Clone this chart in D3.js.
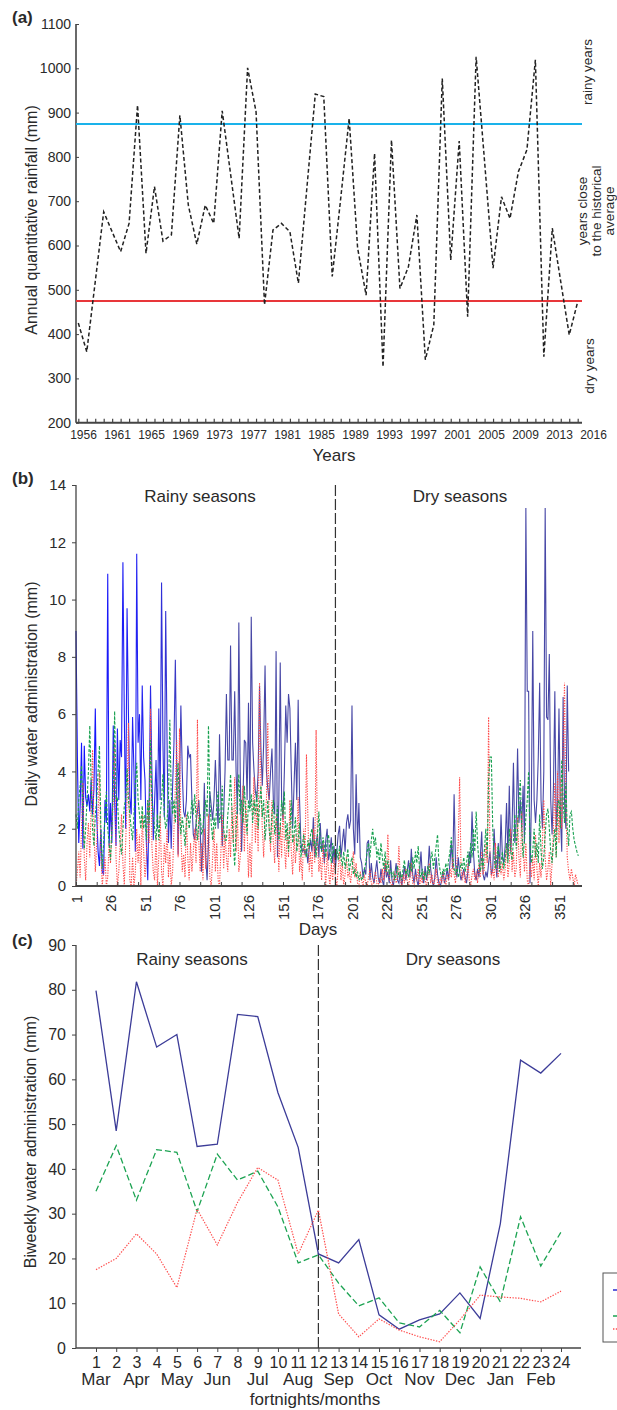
<!DOCTYPE html>
<html><head><meta charset="utf-8">
<script src="https://cdn.jsdelivr.net/npm/d3@7"></script>
<style>
body{margin:0;background:#fff}
svg{display:block}
text{font-family:"Liberation Sans",Arial,sans-serif;fill:#2a2a2a}
</style>
</head><body><svg id="c" width="617" height="1410"></svg>
<script>
// ---------- Panel (a) data ----------
const years = d3.range(1956, 2016);
const rainfall = [425,360,518,676,631,586,650,917,582,733,
  610,624,894,691,603,691,650,904,760,616,
  1001,902,466,635,650,631,515,729,942,936,
  530,706,887,594,488,808,326,838,503,552,
  669,342,421,977,567,836,439,1026,789,549,
  710,661,767,816,1019,349,639,518,398,473];
const yearTickLabels = ["1956","1961","1965","1969","1973","1977","1981","1985","1989","1993","1997","2001","2005","2009","2013","2016"];
const rainfallTicks = [200,300,400,500,600,700,800,900,1000,1100];
const rainyThreshold = 874;
const dryThreshold = 475;

// ---------- Panel (b) data ----------
const days = d3.range(1, 366);
const blueDaily = [
 8.9,4.5,1.5,2.8,5.0,1.3,4.9,3.1,2.8,3.2,
 2.6,3.7,2.5,3.4,6.2,2.5,1.2,0.7,2.0,0.5,
 0.4,3.0,2.2,10.9,1.4,2.9,1.5,5.6,3.0,1.4,
 5.5,3.0,5.1,4.5,11.3,6.0,2.0,9.7,6.0,3.1,
 2.5,5.9,4.0,1.2,11.6,5.0,6.0,3.0,7.0,4.5,
 3.7,1.5,0.2,3.0,7.0,4.0,1.6,3.0,4.4,2.0,
 6.2,3.0,10.6,5.0,2.4,9.6,5.0,1.5,3.0,1.3,
 3.5,5.0,7.9,4.0,1.1,3.5,6.3,4.0,2.6,2.4,
 3.0,4.9,4.5,4.6,3.0,1.8,1.6,2.2,2.6,3.0,
 2.0,0.5,1.5,3.6,1.0,0.2,1.5,3.3,2.8,2.3,
 3.0,4.4,3.0,2.0,5.3,3.0,1.4,2.5,4.0,6.7,
 4.4,4.4,8.4,4.4,4.4,6.8,4.0,2.5,9.2,4.0,
 1.2,3.0,5.1,5.0,3.0,6.4,2.8,9.4,5.0,4.0,
 3.3,3.0,4.0,7.0,4.8,3.5,5.0,7.7,4.0,3.4,
 3.0,4.0,4.8,3.0,2.5,8.2,1.0,3.0,7.8,3.0,
 2.3,4.0,6.3,5.0,6.7,6.2,4.0,2.0,3.5,5.0,
 3.0,6.5,3.0,1.5,1.2,1.3,1.1,1.3,0.8,1.3,
 1.6,1.2,2.4,1.0,1.5,1.8,1.0,2.2,1.2,1.5,
 0.8,1.6,2.0,0.9,1.2,1.7,0.8,1.4,0.6,1.2,
 1.8,2.1,1.0,1.5,2.0,1.2,2.2,2.5,2.0,2.3,
 6.3,2.0,1.1,3.9,1.5,2.9,1.0,0.8,0.3,0.6,
 0.4,1.5,1.6,0.2,0.8,0.3,0.1,0.5,0.9,0.3,
 0.1,0.6,0.2,0.0,0.8,0.3,0.5,0.1,0.9,0.2,
 0.0,0.4,0.8,0.2,0.1,0.5,0.0,0.3,0.7,0.2,
 0.5,0.9,0.3,1.3,0.4,0.1,0.6,0.2,0.0,0.5,
 1.2,0.3,0.1,0.7,0.2,0.5,1.4,0.6,0.2,0.0,
 0.3,1.0,0.4,0.1,0.0,0.2,0.5,0.1,0.3,0.6,
 0.2,0.8,1.5,0.6,3.2,0.8,0.3,1.0,0.5,0.2,
 0.4,0.6,0.3,0.1,0.5,1.2,0.8,2.6,1.2,0.4,
 0.2,0.6,0.3,1.0,1.9,0.4,0.2,0.5,0.3,0.8,
 1.2,0.4,0.6,2.0,0.9,0.3,1.5,0.6,2.5,1.0,
 0.8,1.4,2.9,1.0,3.5,1.2,2.0,4.3,1.5,2.2,
 4.8,2.2,3.0,2.0,3.5,1.5,13.2,6.8,6.8,0.1,
 3.0,8.9,3.0,2.2,3.0,4.5,7.1,3.0,2.0,4.0,
 13.2,5.9,5.8,8.1,3.0,1.8,3.5,6.8,1.9,3.0,
 6.2,2.5,1.2,6.6,3.0,2.0,7.0,4.0];
const greenDaily = [
 2.5,2.0,3.0,3.5,4.2,2.5,1.3,2.0,3.0,4.0,
 5.6,3.5,2.0,1.4,2.5,3.0,4.0,4.9,2.0,0.6,
 1.5,2.5,3.3,2.0,1.5,0.9,2.0,3.5,6.1,3.0,
 3.1,2.0,1.5,1.1,2.0,2.8,3.0,4.1,3.0,2.5,
 2.0,1.6,2.5,3.5,4.3,3.0,2.5,2.0,2.8,2.0,
 2.5,1.6,3.0,2.2,5.1,3.0,2.5,2.0,1.6,2.5,
 1.6,2.5,3.0,3.9,2.5,2.0,2.3,3.0,5.8,3.2,
 2.5,3.0,2.2,3.5,4.3,2.5,1.8,2.4,2.0,1.4,
 2.2,2.6,2.0,2.4,3.0,2.5,3.2,2.4,1.6,2.2,
 2.5,1.8,2.0,2.6,3.0,2.4,5.6,2.9,2.2,1.6,
 2.4,2.0,2.8,3.3,2.2,2.5,3.5,2.0,1.6,1.6,
 2.5,3.0,3.9,2.6,1.5,0.7,2.0,3.0,3.9,2.5,
 3.0,2.2,3.5,2.5,1.8,3.0,2.6,3.2,2.2,3.0,
 2.5,3.3,2.0,2.8,3.5,2.4,3.0,1.6,2.2,3.0,
 2.0,1.5,2.5,3.0,1.8,2.2,2.8,1.6,2.0,3.0,
 2.5,3.3,1.6,2.2,1.2,2.0,3.0,1.5,1.8,2.4,
 1.2,1.6,2.2,1.0,1.4,1.8,1.2,1.0,1.6,1.3,
 1.8,2.0,1.4,1.6,1.0,1.8,2.6,1.4,1.2,1.7,
 1.4,1.0,1.6,1.8,1.2,0.8,1.5,1.1,1.0,1.3,
 0.9,1.4,1.0,0.7,1.2,0.6,0.9,1.3,0.5,0.8,
 1.0,0.4,0.6,0.3,0.5,0.2,0.4,0.2,0.3,0.6,
 0.8,1.2,1.5,1.0,1.6,2.0,1.4,1.7,1.0,1.3,
 0.8,1.5,1.0,0.6,1.2,0.5,0.9,0.4,0.6,0.3,
 0.5,0.2,0.4,0.7,0.3,0.5,0.2,0.6,0.9,0.4,
 0.6,0.3,0.8,0.5,1.0,0.6,1.2,0.8,1.4,0.5,
 0.3,0.6,0.2,0.5,0.3,0.7,0.4,0.9,1.2,0.6,
 1.0,1.4,1.8,0.8,0.5,0.3,0.6,0.4,0.8,0.5,
 0.9,1.2,1.7,1.0,0.6,0.4,0.7,0.3,0.5,0.8,
 0.6,1.0,0.5,0.8,1.2,0.7,1.5,1.0,2.0,1.2,
 2.6,1.5,0.8,0.5,1.0,0.6,1.3,2.0,1.0,3.7,
 4.5,4.5,2.0,1.0,0.6,1.0,1.4,0.5,0.8,1.2,
 0.6,1.0,1.5,0.8,2.0,1.2,0.9,1.6,2.5,1.3,
 2.0,3.0,3.7,2.0,1.0,1.6,2.4,3.0,4.0,1.5,
 0.8,1.2,2.0,1.0,1.5,0.8,2.5,1.2,0.6,1.0,
 1.8,2.5,2.7,2.0,1.2,0.8,1.5,2.0,1.0,2.8,
 3.0,2.0,4.4,3.0,2.2,3.6,2.0,1.4,2.5,2.6,
 2.0,1.6,1.4,1.2,1.05];
const redDaily = [
 0.0,0.5,1.2,0.3,2.0,3.6,1.0,0.2,1.5,2.2,
 1.0,2.8,4.75,2.0,0.5,1.5,2.5,4.0,1.2,0.0,
 0.5,1.0,0.0,0.3,1.5,0.8,2.0,3.0,5.0,1.0,
 0.0,0.5,1.5,2.5,0.8,0.0,1.5,3.0,5.7,0.2,
 0.0,1.0,0.0,0.5,2.0,0.8,1.8,0.0,2.5,1.2,
 0.3,1.0,3.0,1.5,6.2,1.4,0.5,0.2,1.8,0.0,
 1.0,2.5,0.5,0.0,1.5,0.8,2.0,0.3,1.2,0.0,
 0.5,2.0,3.5,5.1,1.0,5.5,1.8,0.5,1.1,0.3,
 2.5,1.0,0.2,1.5,0.5,1.2,2.0,0.8,5.8,1.5,
 0.5,1.5,0.2,2.0,0.6,1.2,2.5,0.3,0.0,1.0,
 2.0,0.5,1.5,0.2,0.0,1.2,2.5,0.6,1.8,1.0,
 0.5,2.0,1.0,2.8,1.5,3.8,1.2,2.5,0.5,1.0,
 2.5,3.5,1.2,3.0,2.0,0.3,1.5,0.3,2.5,3.8,
 1.5,2.8,1.2,7.1,3.5,2.0,1.0,2.5,3.0,5.7,
 2.0,1.2,3.0,1.5,0.8,2.5,1.8,0.5,2.2,1.0,
 2.8,1.5,0.6,2.0,1.0,3.0,1.2,0.4,1.8,0.8,
 1.5,3.1,0.5,1.0,0.2,2.0,1.0,4.6,2.5,0.5,
 1.2,0.3,2.0,0.8,5.45,1.5,0.5,1.0,0.2,1.5,
 0.8,0.0,1.2,0.5,0.0,0.8,0.2,1.0,0.3,0.0,
 0.6,1.2,0.2,0.8,0.0,0.4,1.0,0.3,0.5,0.1,
 0.6,1.2,0.3,0.8,0.1,0.0,0.5,0.2,0.0,0.4,
 0.1,0.0,0.3,0.6,0.1,0.0,0.2,0.5,0.1,0.0,
 0.3,0.1,0.6,0.2,0.9,0.4,1.8,0.3,0.1,0.0,
 0.2,0.5,0.1,0.3,1.4,0.2,0.0,0.4,0.1,0.6,
 0.2,0.0,0.3,0.8,0.1,0.0,0.4,0.2,0.6,0.0,
 0.3,0.1,0.5,0.2,0.0,0.3,0.8,0.1,0.4,0.0,
 0.2,0.6,0.1,0.0,0.3,0.1,0.5,0.2,0.0,0.4,
 0.2,0.6,0.3,1.0,0.4,0.1,0.8,1.5,3.8,0.6,
 0.2,0.5,0.1,0.3,0.8,0.2,0.0,0.4,0.6,0.2,
 0.5,0.1,0.8,0.3,1.2,0.4,0.6,1.5,0.8,5.9,
 1.0,0.3,0.6,0.2,1.5,0.5,0.3,1.0,0.4,0.8,
 0.2,0.6,1.5,0.3,0.8,2.0,0.5,1.2,0.3,0.6,
 2.4,1.0,0.3,2.6,1.2,0.5,1.5,0.2,0.0,0.8,
 0.3,1.0,0.2,1.8,0.6,0.0,0.8,0.3,1.5,3.0,
 1.0,0.2,0.6,1.2,0.0,0.8,2.0,3.6,1.0,4.0,
 1.5,3.8,2.0,4.5,7.1,3.0,1.0,0.5,0.2,0.6,
 0.3,0.0,0.4,0.2,0.0];
const dayTickLabels = [1,26,51,76,101,126,151,176,201,226,251,276,301,326,351];
const dayMinorTicks = [1,16,31,46,61,76,91,106,121,136,151,166,181,196,211,226,241,256,271,286,301,316,331,346,361];
const dailyTicks = [0,2,4,6,8,10,12,14];
const seasonSplitDay = 189;

// ---------- Panel (c) data ----------
const fortnights = [1,2,3,4,5,6,7,8,9,10,11,12,13,14,15,16,17,18,19,20,21,22,23,24];
const monthLabels = ["Mar","Apr","May","Jun","Jul","Aug","Sep","Oct","Nov","Dec","Jan","Feb"];
const monthFortnights = [1,3,5,7,9,11,13,15,17,19,21,23];
const blueBiweekly = [79.8,48.5,81.8,67.2,70.0,45.0,45.5,74.5,74.0,57.0,44.8,21.0,19.0,24.2,7.4,4.2,6.3,7.6,12.3,6.6,27.8,64.3,61.4,65.8];
const greenBiweekly = [35.0,45.2,33.0,44.3,43.7,30.5,43.3,37.5,39.5,31.5,19.0,20.8,14.5,9.4,11.2,5.6,4.7,8.4,3.4,18.1,10.3,29.3,18.3,25.9];
const redBiweekly = [17.5,20.0,25.5,21.0,13.5,31.0,23.0,32.5,40.3,37.5,21.0,30.8,7.6,2.5,6.5,4.0,2.5,1.4,6.3,11.8,11.4,11.1,10.3,12.7];
const biweeklyTicks = [0,10,20,30,40,50,60,70,80,90];
const fortnightSplit = 12;

const svg = d3.select("#c");
const AX = "#444";
const FONT = "Liberation Sans, Arial, sans-serif";

// ================= Panel (a) =================
const xA = d3.scaleLinear().domain([1956, 2015]).range([78.3, 577.7]);
const xALab = d3.scalePoint().domain(yearTickLabels).range([83, 593]);
const yA = d3.scaleLinear().domain([200, 1100]).range([422.7, 24]);
const gA = svg.append("g");

gA.append("line").attr("x1", 76).attr("x2", 582).attr("y1", yA(200)).attr("y2", yA(200))
  .attr("stroke", AX).attr("stroke-width", 2);
gA.append("line").attr("x1", 76).attr("x2", 76).attr("y1", yA(200)).attr("y2", yA(1100))
  .attr("stroke", AX).attr("stroke-width", 1.6);

const axAx = gA.append("g").attr("transform", `translate(0,${yA(200)})`)
  .call(d3.axisBottom(xA).tickValues(years).tickSize(-4).tickFormat(""));
axAx.select(".domain").remove();
axAx.selectAll("line").attr("stroke", AX).attr("stroke-width", 1.2);

const axAlab = gA.append("g").attr("transform", `translate(0,${yA(200) + 5})`)
  .call(d3.axisBottom(xALab).tickSize(0));
axAlab.select(".domain").remove();
axAlab.selectAll("text").attr("font-size", 12).attr("fill", "#333").attr("font-family", FONT);

const ayA = gA.append("g").attr("transform", "translate(76,0)")
  .call(d3.axisLeft(yA).tickValues(rainfallTicks).tickFormat(d3.format("d")).tickSize(-3).tickPadding(5));
ayA.select(".domain").remove();
ayA.selectAll("line").attr("stroke", AX);
ayA.selectAll("text").attr("font-size", 14).attr("fill", "#333").attr("font-family", FONT);

gA.append("line").attr("x1", 76).attr("x2", 582).attr("y1", yA(rainyThreshold)).attr("y2", yA(rainyThreshold))
  .attr("stroke", "#1ab2ea").attr("stroke-width", 2);
gA.append("line").attr("x1", 76).attr("x2", 582).attr("y1", yA(dryThreshold)).attr("y2", yA(dryThreshold))
  .attr("stroke", "#e8363a").attr("stroke-width", 2);

gA.append("path").datum(rainfall)
  .attr("d", d3.line().x((d, i) => xA(years[i])).y(d => yA(d)))
  .attr("fill", "none").attr("stroke", "#222").attr("stroke-width", 1.5).attr("stroke-dasharray", "4,2.5");

gA.append("text").attr("transform", "translate(37,220) rotate(-90)").attr("text-anchor", "middle")
  .attr("font-size", 16).text("Annual quantitative rainfall  (mm)");
gA.append("text").attr("x", 334).attr("y", 461).attr("text-anchor", "middle").attr("font-size", 17).text("Years");
gA.append("text").attr("x", 12).attr("y", 23).attr("font-size", 17).attr("font-weight", "bold").text("(a)");

function sideLabel(lines, cy, x0) {
  const t = gA.append("text").attr("transform", `translate(${x0},${cy}) rotate(-90)`)
    .attr("text-anchor", "middle").attr("font-size", 13.5);
  lines.forEach((l, i) => t.append("tspan").attr("x", 0).attr("y", i * 13.5).text(l));
}
sideLabel(["rainy years"], 72, 592);
sideLabel(["years close", "to the historical", "average"], 211, 587);
sideLabel(["dry years"], 366, 594);

// ================= Panel (b) =================
const xB = d3.scaleLinear().domain([1, 365]).range([76, 578.3]);
const yB = d3.scaleLinear().domain([0, 14]).range([886, 485]);
const gB = svg.append("g");

const defs = svg.append("defs");
const grad = defs.append("linearGradient").attr("id", "blueGrad").attr("gradientUnits", "userSpaceOnUse")
  .attr("x1", xB(1)).attr("x2", xB(90)).attr("y1", 0).attr("y2", 0);
grad.append("stop").attr("offset", "0").attr("stop-color", "#1010ff");
grad.append("stop").attr("offset", "0.55").attr("stop-color", "#2424f0");
grad.append("stop").attr("offset", "1").attr("stop-color", "#4747a6");

const lineB = arr => d3.line().x((d, i) => xB(days[i])).y(d => yB(d))(arr);
gB.append("path").attr("d", lineB(blueDaily)).attr("fill", "none")
  .attr("stroke", "url(#blueGrad)").attr("stroke-width", 1.1);
gB.append("path").attr("d", lineB(redDaily)).attr("fill", "none")
  .attr("stroke", "#ff4a4a").attr("stroke-width", 1.1).attr("stroke-dasharray", "1.3,1.3");
gB.append("path").attr("d", lineB(greenDaily)).attr("fill", "none")
  .attr("stroke", "#17a04f").attr("stroke-width", 1.1).attr("stroke-dasharray", "3,1.6");

gB.append("line").attr("x1", 76).attr("x2", 582).attr("y1", yB(0)).attr("y2", yB(0))
  .attr("stroke", AX).attr("stroke-width", 1.8);
gB.append("line").attr("x1", 76).attr("x2", 76).attr("y1", yB(0)).attr("y2", yB(14))
  .attr("stroke", AX).attr("stroke-width", 1.3);

const axBminor = gB.append("g").attr("transform", `translate(0,${yB(0)})`)
  .call(d3.axisBottom(xB).tickValues(dayMinorTicks).tickSize(-4).tickFormat(""));
axBminor.select(".domain").remove();
axBminor.selectAll("line").attr("stroke", AX);

const axBlab = gB.append("g").attr("transform", `translate(0,${yB(0)})`)
  .call(d3.axisBottom(xB).tickValues(dayTickLabels).tickSize(0));
axBlab.select(".domain").remove();
axBlab.selectAll("text").attr("font-size", 15).attr("fill", "#333")
  .attr("font-family", FONT)
  .attr("text-anchor", "end").attr("transform", "rotate(-90)")
  .attr("x", -9).attr("y", 0).attr("dy", "0.36em");

const ayB = gB.append("g").attr("transform", "translate(76,0)")
  .call(d3.axisLeft(yB).tickValues(dailyTicks).tickSize(4).tickPadding(6));
ayB.select(".domain").remove();
ayB.selectAll("line").attr("stroke", AX);
ayB.selectAll("text").attr("font-size", 15).attr("fill", "#333").attr("font-family", FONT);

gB.append("line").attr("x1", xB(seasonSplitDay)).attr("x2", xB(seasonSplitDay))
  .attr("y1", yB(14)).attr("y2", yB(0)).attr("stroke", "#333").attr("stroke-width", 1.2)
  .attr("stroke-dasharray", "11,3");

gB.append("text").attr("x", 200).attr("y", 502).attr("text-anchor", "middle").attr("font-size", 17).text("Rainy seasons");
gB.append("text").attr("x", 460).attr("y", 502).attr("text-anchor", "middle").attr("font-size", 17).text("Dry seasons");
gB.append("text").attr("transform", "translate(37,694) rotate(-90)").attr("text-anchor", "middle")
  .attr("font-size", 16).text("Daily water administration (mm)");
gB.append("text").attr("x", 318).attr("y", 935).attr("text-anchor", "middle").attr("font-size", 17).text("Days");
gB.append("text").attr("x", 12).attr("y", 484).attr("font-size", 17).attr("font-weight", "bold").text("(b)");

// ================= Panel (c) =================
const xC = d3.scaleLinear().domain([1, 24]).range([96, 561]);
const yC = d3.scaleLinear().domain([0, 90]).range([1348, 945]);
const gC = svg.append("g");

gC.append("line").attr("x1", 76).attr("x2", 581).attr("y1", yC(0)).attr("y2", yC(0))
  .attr("stroke", AX).attr("stroke-width", 1.5);
gC.append("line").attr("x1", 76).attr("x2", 76).attr("y1", yC(0)).attr("y2", yC(90))
  .attr("stroke", AX).attr("stroke-width", 1.3);

const axC = gC.append("g").attr("transform", `translate(0,${yC(0)})`)
  .call(d3.axisBottom(xC).tickValues(fortnights).tickSize(4).tickPadding(5));
axC.select(".domain").remove();
axC.selectAll("line").attr("stroke", AX);
axC.selectAll("text").attr("font-size", 16).attr("fill", "#333").attr("font-family", FONT);

const xMonth = d3.scaleOrdinal().domain(monthLabels).range(monthFortnights.map(f => xC(f)));
gC.selectAll("text.month").data(monthLabels).enter().append("text").attr("class", "month")
  .attr("x", d => xMonth(d)).attr("y", 1385).attr("text-anchor", "middle").attr("font-size", 17).text(d => d);

const ayC = gC.append("g").attr("transform", "translate(76,0)")
  .call(d3.axisLeft(yC).tickValues(biweeklyTicks).tickSize(4).tickPadding(6));
ayC.select(".domain").remove();
ayC.selectAll("line").attr("stroke", AX);
ayC.selectAll("text").attr("font-size", 16).attr("fill", "#333").attr("font-family", FONT);

gC.append("line").attr("x1", xC(fortnightSplit)).attr("x2", xC(fortnightSplit))
  .attr("y1", yC(90)).attr("y2", yC(0)).attr("stroke", "#333").attr("stroke-width", 1.2)
  .attr("stroke-dasharray", "11,3");

const lineC = arr => d3.line().x((d, i) => xC(fortnights[i])).y(d => yC(d))(arr);
gC.append("path").attr("d", lineC(blueBiweekly)).attr("fill", "none").attr("stroke", "#3c3c98").attr("stroke-width", 1.3);
gC.append("path").attr("d", lineC(greenBiweekly)).attr("fill", "none").attr("stroke", "#1ca352").attr("stroke-width", 1.3).attr("stroke-dasharray", "6,3");
gC.append("path").attr("d", lineC(redBiweekly)).attr("fill", "none").attr("stroke", "#ff5050").attr("stroke-width", 1.2).attr("stroke-dasharray", "1.4,1.4");

gC.append("text").attr("x", 192).attr("y", 965).attr("text-anchor", "middle").attr("font-size", 17).text("Rainy seasons");
gC.append("text").attr("x", 453).attr("y", 965).attr("text-anchor", "middle").attr("font-size", 17).text("Dry seasons");
gC.append("text").attr("transform", "translate(36,1142) rotate(-90)").attr("text-anchor", "middle")
  .attr("font-size", 16).text("Biweekly water administration (mm)");
gC.append("text").attr("x", 315).attr("y", 1405).attr("text-anchor", "middle").attr("font-size", 17).text("fortnights/months");
gC.append("text").attr("x", 12).attr("y", 946).attr("font-size", 17).attr("font-weight", "bold").text("(c)");

// legend (cut by page edge)
const lg = gC.append("g");
lg.append("rect").attr("x", 603).attr("y", 1273).attr("width", 40).attr("height", 69)
  .attr("fill", "#fff").attr("stroke", "#555").attr("stroke-width", 1);
const legendItems = [
  {c: "#2b2bd0", dash: null, y: 1290},
  {c: "#1ca352", dash: "6,3", y: 1316},
  {c: "#ff5050", dash: "1.4,1.4", y: 1329}
];
legendItems.forEach(it => {
  const l = lg.append("line").attr("x1", 613).attr("x2", 635).attr("y1", it.y).attr("y2", it.y)
    .attr("stroke", it.c).attr("stroke-width", 1.5);
  if (it.dash) l.attr("stroke-dasharray", it.dash);
});
</script>
</body></html>
